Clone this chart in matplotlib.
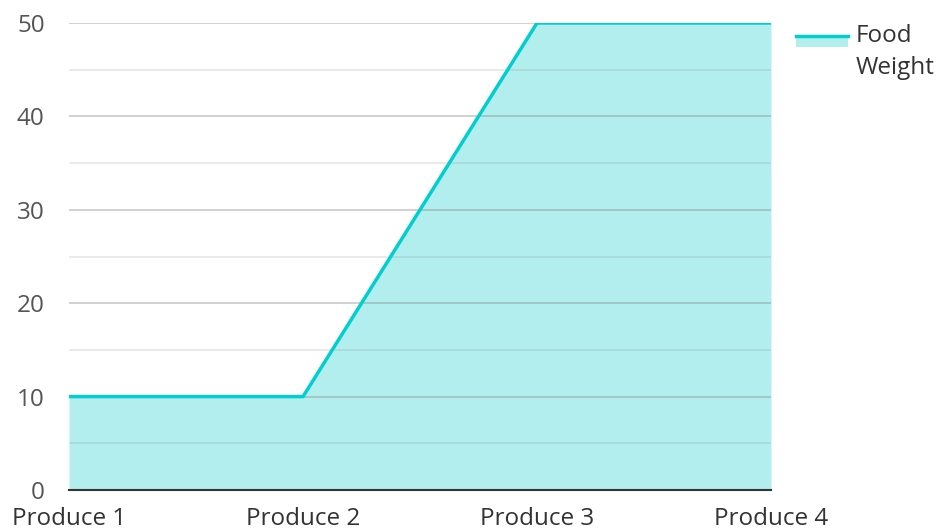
import matplotlib.pyplot as plt
from matplotlib.patches import Rectangle
from matplotlib.lines import Line2D

plt.rcParams['font.family'] = ['Open Sans', 'DejaVu Sans']

categories = ['Produce 1', 'Produce 2', 'Produce 3', 'Produce 4']
food_weight = [10, 10, 50, 50]
series_name = ['Food', 'Weight']

line_color = '#00CED1'
fill_color = '#B2EEEE'
W, H = 942, 531
fs = 17.5

fig = plt.figure(figsize=(W/100, H/100), dpi=100)
ax = fig.add_axes([69/W, 41/H, (771-69)/W, (490-23)/H])

x = list(range(len(categories)))
ax.fill_between(x, food_weight, 0, color=fill_color, linewidth=0, zorder=1)
ax.plot(x, food_weight, color=line_color, linewidth=2.5, zorder=3, solid_joinstyle='miter')

ax.set_xlim(0, 3)
ax.set_ylim(0, 50)
ax.set_xticks(x)
ax.set_xticklabels(categories, fontsize=fs, color='#333333')
ax.set_yticks(range(0, 51, 10))
ax.set_yticks(range(5, 50, 10), minor=True)
ax.tick_params(axis='y', labelsize=fs, labelcolor='#555555', length=0, pad=17.5, which='both')
ax.tick_params(axis='x', length=0, pad=12)

ax.grid(axis='y', which='major', color='#888888', alpha=0.45, linewidth=1.2, zorder=2)
ax.grid(axis='y', which='minor', color='#888888', alpha=0.2, linewidth=1.2, zorder=2)
ax.set_axisbelow(False)
for s in ['top', 'right', 'left']:
    ax.spines[s].set_visible(False)
ax.spines['bottom'].set_color('#333333')
ax.spines['bottom'].set_linewidth(1.5)
ax.spines['bottom'].set_zorder(4)

# legend drawn by hand: line over filled area, label wrapped on two lines
fig.add_artist(Rectangle((796/W, 1 - 47/H), 52/W, 12/H, facecolor=fill_color,
                         edgecolor='none', transform=fig.transFigure))
fig.add_artist(Line2D([796/W, 848/W], [1 - 36/H, 1 - 36/H], color=line_color,
                      linewidth=2.5, transform=fig.transFigure))
fig.text(856/W, 1 - 36/H, series_name[0], fontsize=fs, color='#333333', va='center')
fig.text(856/W, 1 - 68/H, series_name[1], fontsize=fs, color='#333333', va='center')

fig.savefig('out.png', dpi=100)
